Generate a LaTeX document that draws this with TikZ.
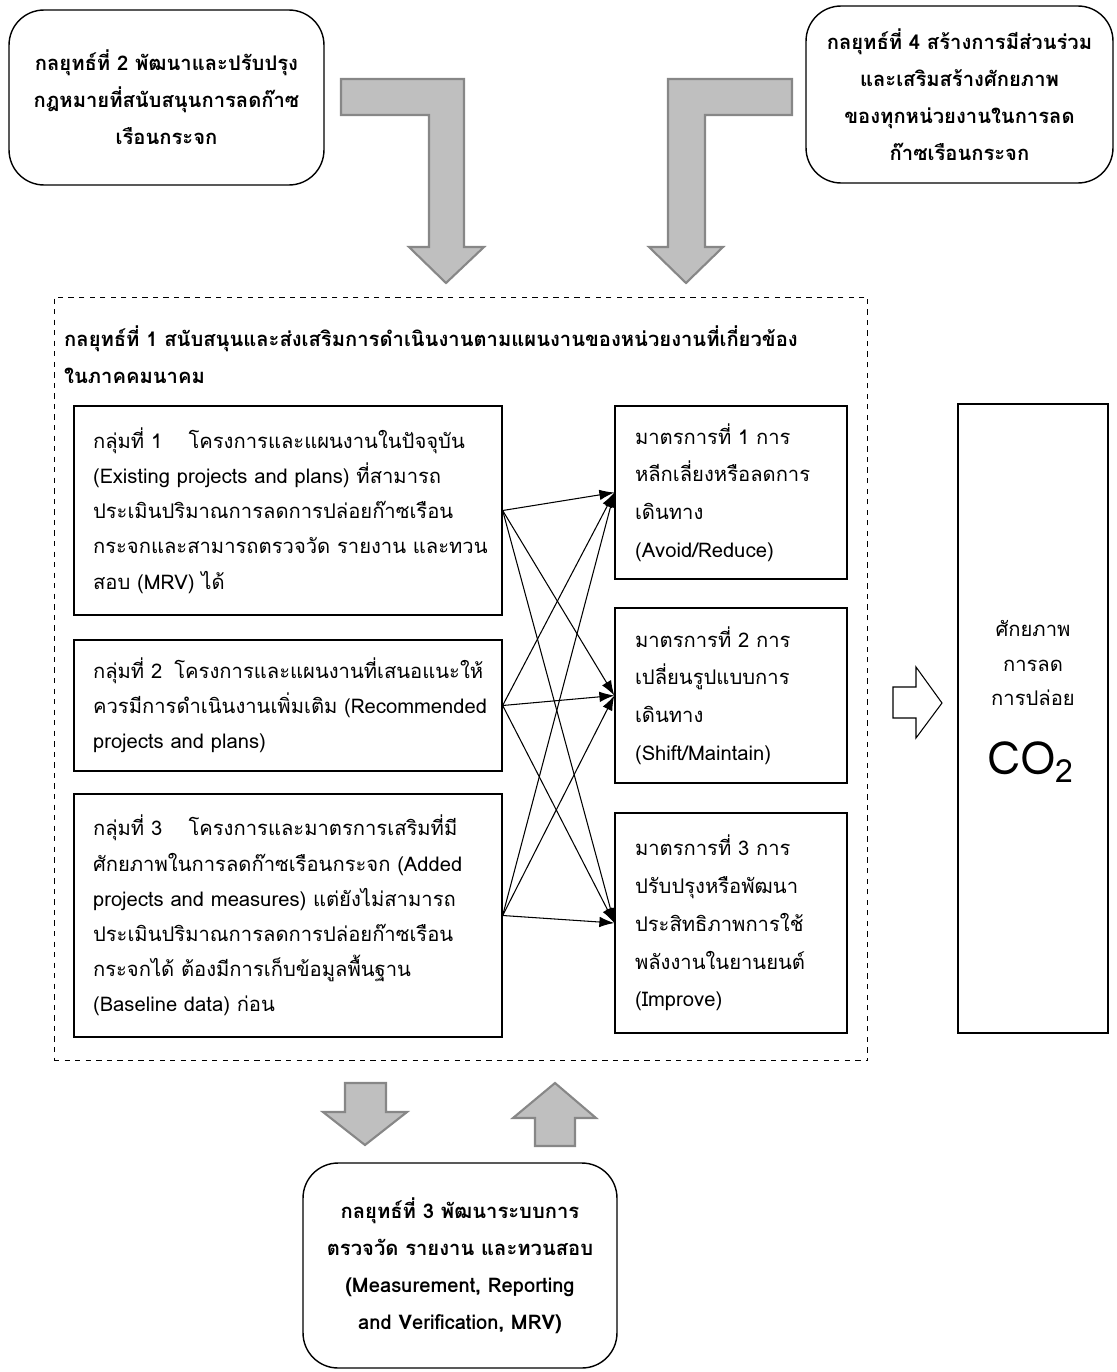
\documentclass[tikz,border=0pt]{standalone}
\usepackage{fontspec}
\setmainfont[Script=Thai]{Loma}
\usetikzlibrary{arrows.meta}
\definecolor{blockfill}{HTML}{BFBFBF}
\definecolor{blockedge}{HTML}{878787}
\hyphenpenalty=10000
\exhyphenpenalty=10000

\begin{document}
\begin{tikzpicture}[x=0.02cm, y=-0.02cm,
  strat/.style={draw, rounded corners=0.7cm, line width=0.8pt, align=center,
    font=\bfseries\fontsize{11.5}{21}\selectfont},
  groupbox/.style={draw, line width=0.8pt, align=left, text width=7.8cm,
    inner xsep=0.38cm, inner ysep=0pt, font=\fontsize{11.5}{20}\selectfont},
  measurebox/.style={draw, line width=0.8pt, align=left, text width=3.84cm,
    inner xsep=0.4cm, inner ysep=0pt, font=\fontsize{11.5}{21.5}\selectfont},
  link/.style={-{Latex[length=8.5pt, width=6pt]}, line width=0.6pt},
  blockarrow/.style={fill=blockfill, draw=blockedge, line width=1.2pt}]
  % page frame, pixel units
  \useasboundingbox (0,0) rectangle (1116,1372);

  % Strategy boxes (rounded)
  \node[strat, minimum width=6.3cm, minimum height=3.5cm] (s2) at (166.5,97.5)
    {กลยุทธ์ที่ 2 พัฒนาและปรับปรุง\\กฎหมายที่สนับสนุนการลดก๊าซ\\เรือนกระจก};
  \node[strat, minimum width=6.14cm, minimum height=3.54cm] (s4) at (959.5,94.5)
    {กลยุทธ์ที่ 4 สร้างการมีส่วนร่วม\\และเสริมสร้างศักยภาพ\\ของทุกหน่วยงานในการลด\\ก๊าซเรือนกระจก};
  \node[strat, minimum width=6.28cm, minimum height=4.1cm] (s3) at (460,1265.5)
    {กลยุทธ์ที่ 3 พัฒนาระบบการ\\ตรวจวัด รายงาน และทวนสอบ\\(Measurement, Reporting\\and Verification, MRV)};

  % Bent block arrows from strategies 2 and 4
  \draw[blockarrow] (341,79) -- (464,79) -- (464,247) -- (484,247) -- (446,283)
    -- (409,247) -- (429,247) -- (429,115) -- (341,115) -- cycle;
  \draw[blockarrow] (792,79) -- (668,79) -- (668,247) -- (649,247) -- (686,283)
    -- (723,247) -- (705,247) -- (705,115) -- (792,115) -- cycle;

  % Strategy 1 frame (dashed)
  \node[draw, dashed, line width=0.6pt, minimum width=16.28cm, minimum height=15.28cm]
    (s1) at (461,679) {};
  \node[anchor=west, align=left, font=\bfseries\fontsize{11.5}{21}\selectfont] (s1title) at (58,354.5)
    {กลยุทธ์ที่ 1 สนับสนุนและส่งเสริมการดำเนินงานตามแผนงานของหน่วยงานที่เกี่ยวข้อง\\ในภาคคมนาคม};

  % Groups of projects
  \node[groupbox, minimum height=4.18cm] (g1) at (288,510.5)
    {\mbox{กลุ่มที่ 1\hspace{1.3em}โครงการและแผนงานในปัจจุบัน}\\(Existing~projects~and~plans)~ที่สามารถ\\ประเมินปริมาณการลดการปล่อยก๊าซเรือน\\กระจกและสามารถตรวจวัด~รายงาน~และทวน\\สอบ (MRV) ได้};
  \node[groupbox, minimum height=2.62cm] (g2) at (288,705.5)
    {\mbox{กลุ่มที่ 2\hspace{0.6em}โครงการและแผนงานที่เสนอแนะให้}\\ควรมีการดำเนินงานเพิ่มเติม~(Recommended\\projects and plans)};
  \node[groupbox, minimum height=4.86cm] (g3) at (288,915.5)
    {\mbox{กลุ่มที่ 3\hspace{1.3em}โครงการและมาตรการเสริมที่มี}\\ศักยภาพในการลดก๊าซเรือนกระจก~(Added\\projects~and~measures)~แต่ยังไม่สามารถ\\ประเมินปริมาณการลดการปล่อยก๊าซเรือน\\กระจกได้~ต้องมีการเก็บข้อมูลพื้นฐาน\\(Baseline data) ก่อน};

  % Measures
  \node[measurebox, minimum height=3.46cm] (m1) at (731,492.5)
    {มาตรการที่~1~การ\\หลีกเลี่ยงหรือลดการ\\เดินทาง\\(Avoid/Reduce)};
  \node[measurebox, minimum height=3.5cm] (m2) at (731,695.5)
    {มาตรการที่~2~การ\\เปลี่ยนรูปแบบการ\\เดินทาง\\(Shift/Maintain)};
  \node[measurebox, minimum height=4.4cm] (m3) at (731,923)
    {มาตรการที่~3~การ\\ปรับปรุงหรือพัฒนา\\ประสิทธิภาพการใช้\\พลังงานในยานยนต์\\(Improve)};

  % every group feeds every measure
  \foreach \g in {g1,g2,g3}
    \foreach \m in {m1,m2,m3}
      \draw[link] (\g.east) -- (\m.west);

  % CO2 potential
  \node[draw, line width=0.8pt, minimum width=3cm, minimum height=12.58cm] (co2) at (1033,718.5) {};
  \node[align=center, font=\fontsize{11.5}{19.5}\selectfont] (co2lbl) at (1033,663)
    {ศักยภาพ\\การลด\\การปล่อย};
  \node[font=\fontsize{26}{30}\selectfont] (co2sym) at (1031,762) {CO\textsubscript{2}};

  % open arrow into the CO2 box
  \draw[line width=0.6pt, fill=white] (893,687) -- (916,687) -- (916,667) -- (942,703)
    -- (916,738) -- (916,718) -- (893,718) -- cycle;

  % Block arrows to/from strategy 3
  \draw[blockarrow] (345,1083) -- (386,1083) -- (386,1112) -- (407,1112) -- (365,1145)
    -- (323,1112) -- (345,1112) -- cycle;
  \draw[blockarrow] (535,1146) -- (575,1146) -- (575,1118) -- (596,1118) -- (555,1083)
    -- (513,1118) -- (535,1118) -- cycle;
\end{tikzpicture}
\end{document}
